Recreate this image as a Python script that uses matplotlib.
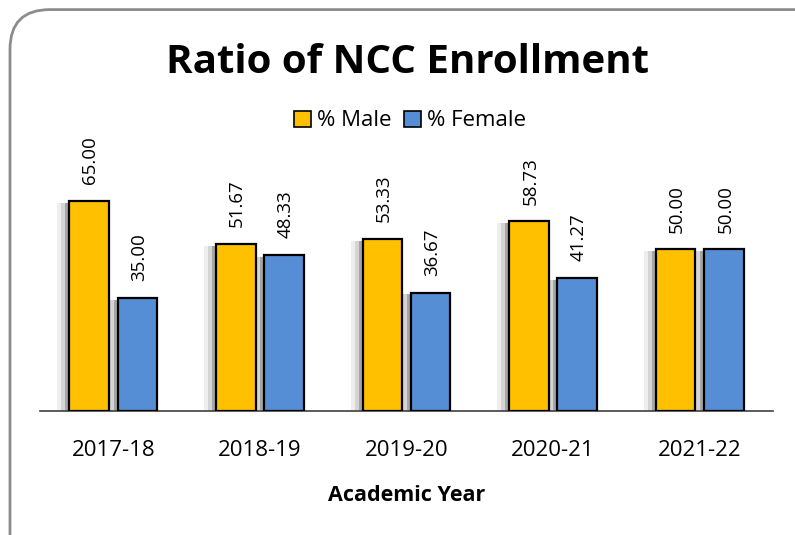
import matplotlib
matplotlib.use("Agg")
import matplotlib.pyplot as plt
from matplotlib.patches import FancyBboxPatch, Rectangle
import numpy as np

years = ["2017-18", "2018-19", "2019-20", "2020-21", "2021-22"]
male = [65.00, 51.67, 53.33, 58.73, 50.00]
female = [35.00, 48.33, 36.67, 41.27, 50.00]
series_names = ["% Male", "% Female"]
colors = ["#FFC000", "#558ED5"]

plt.rcParams['font.family'] = ['Open Sans', 'DejaVu Sans']

W, H = 795, 535
fig = plt.figure(figsize=(W / 100, H / 100), dpi=100)

# rounded frame
frame = FancyBboxPatch((10 / W, -0.2), (W + 40) / W, 1.2 - 8 / H - 0.003,
                       boxstyle="round,pad=0,rounding_size=0.05",
                       transform=fig.transFigure, facecolor="none",
                       edgecolor="#8c8c8c", linewidth=2, mutation_aspect=W / H, zorder=-1)
fig.patches.append(frame)

ax_left, ax_right = 40, 773
ax_bottom, ax_top = 411, 140
ax = fig.add_axes([ax_left / W, 1 - ax_bottom / H, (ax_right - ax_left) / W, (ax_bottom - ax_top) / H])
ax.set_facecolor("none")
ax.set_xlim(-0.5, 4.5)
ax.set_ylim(0, (ax_bottom - ax_top) / 3.23)

x = np.arange(len(years))
bw = 0.27
off = 0.165
px = 5 / (ax_right - ax_left)

for vals, shift, col in [(male, -off, colors[0]), (female, off, colors[1])]:
    xs = x + shift
    # soft shadow layers to the left
    for k, sc in [(12, "#eeeeee"), (8, "#d4d4d4"), (4, "#a6a6a6")]:
        ax.bar(xs - k * px, np.array(vals) - 0.6, width=bw, color=sc, edgecolor="none", zorder=1)
    ax.bar(xs, vals, width=bw, color=col, edgecolor="black", linewidth=1.6, zorder=3)
    for xi, v in zip(xs, vals):
        ax.annotate(f"{v:.2f}", (xi, v), xytext=(1, 12), textcoords="offset points",
                    rotation=90, ha="center", va="bottom", fontsize=13.5, color="black", zorder=4)

for s in ["top", "right", "left"]:
    ax.spines[s].set_visible(False)
ax.spines["bottom"].set_color("#404040")
ax.spines["bottom"].set_linewidth(1.2)
ax.set_yticks([])
ax.set_xticks(x)
ax.set_xticklabels(years, fontsize=16)
ax.tick_params(axis="x", length=0, pad=21)
ax.set_xlabel("Academic Year", fontsize=15.5, fontweight="bold", labelpad=17)

fig.text(408 / W, 1 - 62 / H, "Ratio of NCC Enrollment", ha="center", va="center",
         fontsize=29, fontweight="bold")

# legend
handles = [Rectangle((0, 0), 1, 1, facecolor=c, edgecolor="black", linewidth=1.2) for c in colors]
fig.legend(handles, series_names, loc="center", bbox_to_anchor=(410 / W, 1 - 121 / H),
           ncol=2, frameon=False, fontsize=16, handlelength=0.75, handleheight=0.75,
           handletextpad=0.25, columnspacing=0.6)

fig.savefig("out.png", dpi=100)
